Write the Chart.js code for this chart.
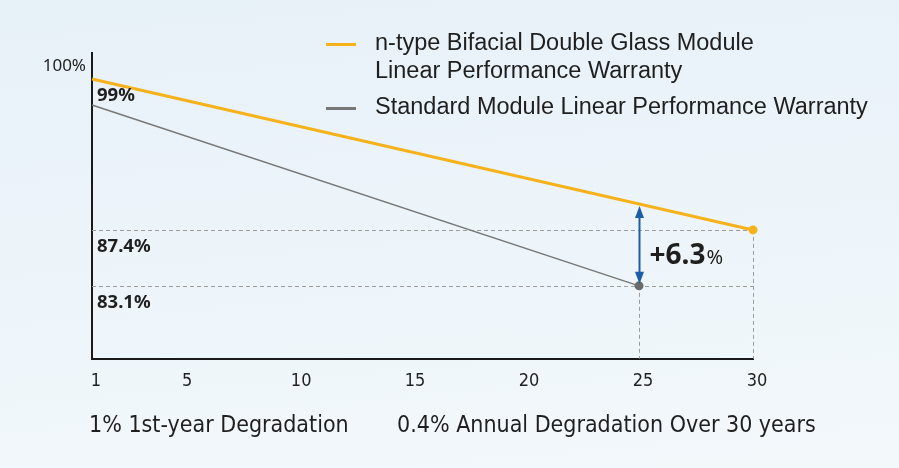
<!DOCTYPE html>
<html>
<head>
<meta charset="utf-8">
<script src="https://cdn.jsdelivr.net/npm/chart.js@4.4.1/dist/chart.umd.min.js"></script>
<style>
  html, body { margin: 0; padding: 0; }
  body {
    width: 899px; height: 468px; overflow: hidden;
    background: linear-gradient(175deg, #e7f1f8 0%, #edf5fa 55%, #f3f8fb 100%);
  }
  #chart { display: block; }
</style>
</head>
<body>
<canvas id="chart" width="899" height="468"></canvas>
<script>
// values
const nTypeYears = [1, 30];
const nTypeValues = [99, 87.4];
const standardYears = [1, 25];
const standardValues = [97, 83.1];

const xTicks = [1, 5, 10, 15, 20, 25, 30];
const yTicks = [100];

const nTypeLabel = ["n-type Bifacial Double Glass Module", "Linear Performance Warranty"];
const standardLabel = ["Standard Module Linear Performance Warranty"];

const valueLabels = ["99%", "87.4%", "83.1%"];
const valueLabelValues = [99, 87.4, 83.1];

const guideValues = [87.4, 83.1];   // dashed horizontals
const guideYears = [25, 30];        // dashed verticals
const guideTops = [83.1, 87.4];

const gapYear = 25;
const gapFrom = 83.1;
const gapTo = 89.4;
const gapText = "+6.3";

const captions = ["1% 1st-year Degradation", "0.4% Annual Degradation Over 30 years"];

const ORANGE = "#f6b21b";
const GREY = "#777777";
const BLUE = "#1c5da8";
const INK = "#1f1f1f";
const NARROW = "'Liberation Sans Narrow', 'DejaVu Sans Condensed', sans-serif";

const lastPoint = (c) => c.dataIndex === c.dataset.data.length - 1 ? 4.5 : 0;

// dashed guides, arrow, labels, legend and captions
const annotations = {
  id: "annotations",
  beforeDatasetsDraw(chart) {
    const { ctx, scales: { x, y } } = chart;
    const px = (v) => Math.round(v) + 0.5;
    ctx.save();
    ctx.strokeStyle = "#9c9c9c";
    ctx.lineWidth = 1;
    ctx.setLineDash([4, 3]);
    guideValues.forEach((v) => {
      ctx.beginPath();
      ctx.moveTo(x.getPixelForValue(xTicks[0]), px(y.getPixelForValue(v)));
      ctx.lineTo(x.getPixelForValue(xTicks[xTicks.length - 1]), px(y.getPixelForValue(v)));
      ctx.stroke();
    });
    guideYears.forEach((yr, i) => {
      ctx.beginPath();
      ctx.moveTo(px(x.getPixelForValue(yr)), y.getPixelForValue(guideTops[i]));
      ctx.lineTo(px(x.getPixelForValue(yr)), y.bottom);
      ctx.stroke();
    });
    ctx.restore();
  },
  afterDatasetsDraw(chart) {
    const { ctx, scales: { x, y } } = chart;
    ctx.save();

    // double arrow between the two warranties
    const ax = Math.round(x.getPixelForValue(gapYear)) + 0.5;
    const top = y.getPixelForValue(gapTo) + 2;
    const bot = y.getPixelForValue(gapFrom) - 2;
    ctx.strokeStyle = BLUE;
    ctx.fillStyle = BLUE;
    ctx.lineWidth = 2;
    ctx.beginPath();
    ctx.moveTo(ax, top + 8);
    ctx.lineTo(ax, bot - 8);
    ctx.stroke();
    ctx.beginPath();
    ctx.moveTo(ax, top); ctx.lineTo(ax - 4.5, top + 12); ctx.lineTo(ax + 4.5, top + 12);
    ctx.closePath(); ctx.fill();
    ctx.beginPath();
    ctx.moveTo(ax, bot); ctx.lineTo(ax - 4.5, bot - 12); ctx.lineTo(ax + 4.5, bot - 12);
    ctx.closePath(); ctx.fill();

    ctx.fillStyle = INK;
    ctx.textBaseline = "middle";
    ctx.textAlign = "left";
    const midY = (top + bot) / 2 + 11;
    ctx.font = "bold 28px 'Noto Sans', sans-serif";
    ctx.fillText(gapText, ax + 10, midY);
    const w = ctx.measureText(gapText).width;
    ctx.font = "20px 'Noto Sans', sans-serif";
    ctx.fillText("%", ax + 11 + w, midY + 2);

    // value labels inside the plot
    ctx.font = "bold 18.5px 'Noto Sans', sans-serif";
    valueLabels.forEach((t, i) => {
      ctx.fillText(t, x.left + 5, y.getPixelForValue(valueLabelValues[i]) + 17);
    });

    // legend
    const sets = chart.data.datasets;
    const rows = [[sets[0], 44], [sets[1], 108]];
    ctx.font = "23.5px 'Liberation Sans', Arial, sans-serif";
    rows.forEach(([ds, cy]) => {
      ctx.strokeStyle = ds.borderColor;
      ctx.lineWidth = 3;
      ctx.beginPath();
      ctx.moveTo(326, cy + 0.5);
      ctx.lineTo(356, cy + 0.5);
      ctx.stroke();
      ds.label.forEach((line, j) => {
        ctx.fillStyle = INK;
        ctx.fillText(line, 375, cy + j * 28);
      });
    });

    // captions under the axis
    ctx.font = "23px " + NARROW;
    ctx.fillStyle = INK;
    ctx.fillText(captions[0], 89, 426);
    ctx.fillText(captions[1], 397, 426);

    ctx.restore();
  }
};

new Chart(document.getElementById("chart"), {
  type: "line",
  data: {
    datasets: [
      {
        label: nTypeLabel,
        data: nTypeYears.map((yr, i) => ({ x: yr, y: nTypeValues[i] })),
        borderColor: ORANGE,
        backgroundColor: ORANGE,
        borderWidth: 3,
        pointRadius: lastPoint,
        pointBorderWidth: 0,
        clip: false,
      },
      {
        label: standardLabel,
        data: standardYears.map((yr, i) => ({ x: yr, y: standardValues[i] })),
        borderColor: GREY,
        backgroundColor: "#6a6a6a",
        borderWidth: 1.5,
        pointRadius: lastPoint,
        pointBorderWidth: 0,
        clip: false,
      },
    ],
  },
  options: {
    responsive: false,
    animation: false,
    layout: { padding: { left: 0, right: 146, top: 53, bottom: 0 } },
    plugins: { legend: { display: false }, tooltip: { enabled: false } },
    scales: {
      x: {
        type: "linear",
        min: 1,
        max: 30,
        grid: { display: false, drawTicks: false },
        border: { display: true, color: "#1a1a1a", width: 2 },
        afterBuildTicks: (s) => { s.ticks = xTicks.map((v) => ({ value: v })); },
        afterFit: (s) => { s.height = 109.3; },
        ticks: {
          color: INK,
          padding: 12,
          labelOffset: 4,
          font: { family: NARROW, size: 18 },
        },
      },
      y: {
        min: 77.5,
        max: 101,
        grid: { display: false, drawTicks: false },
        border: { display: true, color: "#1a1a1a", width: 2 },
        afterBuildTicks: (s) => { s.ticks = yTicks.map((v) => ({ value: v })); },
        afterFit: (s) => { s.width = 92; },
        ticks: {
          color: INK,
          padding: 6,
          font: { family: "'Noto Sans', sans-serif", size: 17 },
          callback: (v) => v + "%",
        },
      },
    },
  },
  plugins: [annotations],
});
</script>
</body>
</html>
